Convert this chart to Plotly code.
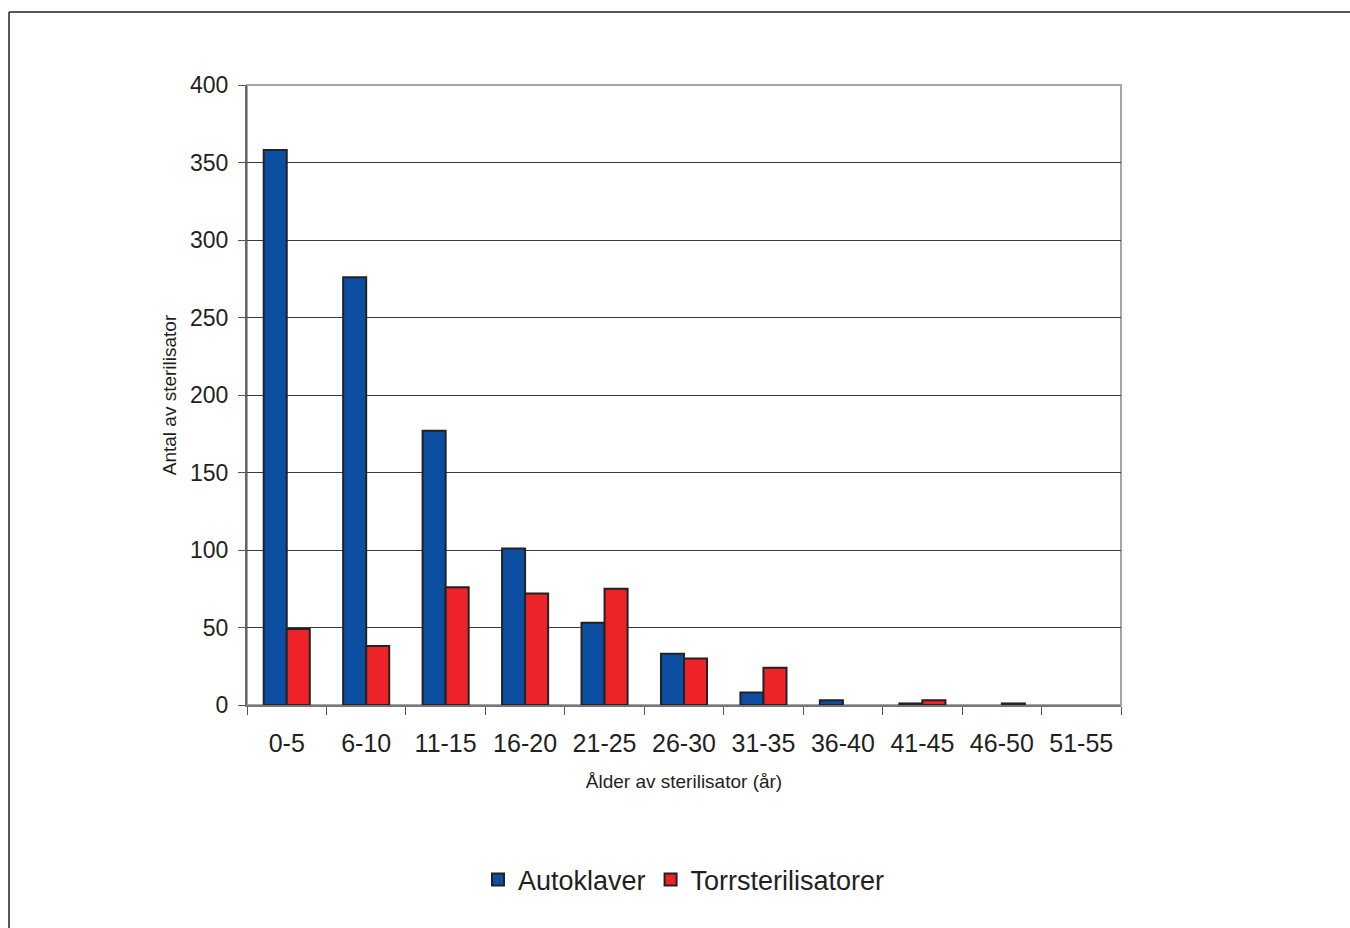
import plotly.graph_objects as go

# Age groups of sterilizers (years) and counts per type
age_groups = ["0-5", "6-10", "11-15", "16-20", "21-25", "26-30",
              "31-35", "36-40", "41-45", "46-50", "51-55"]
autoklaver = [358, 276, 177, 101, 53, 33, 8, 3, 1, 0, 0]
torrsterilisatorer = [49, 38, 76, 72, 75, 30, 24, 0, 3, 1, 0]

y_ticks = [0, 50, 100, 150, 200, 250, 300, 350, 400]

BLUE = "#0b4ea2"
RED = "#ee2229"
TEXT = "#231f20"
FONT = "Liberation Sans, Arial, sans-serif"


def no_zero(values):
    # empty groups get no bar at all (not even an outline)
    return [v if v else None for v in values]


fig = go.Figure()
fig.add_trace(go.Bar(
    name="Autoklaver", x=age_groups, y=no_zero(autoklaver),
    marker=dict(color=BLUE, line=dict(color="#222222", width=2)),
))
fig.add_trace(go.Bar(
    name="Torrsterilisatorer", x=age_groups, y=no_zero(torrsterilisatorer),
    marker=dict(color=RED, line=dict(color="#222222", width=2)),
))

# plot-area geometry in pixels (used for paper-coordinate conversions)
W, H = 1350, 928
L, R, T, B = 247, 1121, 85, 705
pw, ph = R - L, B - T


def px(x):
    return (x - L) / pw


def py(y):
    return (B - y) / ph


shapes = [
    # grey frame around the plotting area (top and right sides visible)
    dict(type="rect", xref="paper", yref="paper", x0=0, y0=0, x1=1, y1=1,
         line=dict(color="#a6a6a6", width=2), layer="below"),
    # outer border of the figure
    dict(type="line", xref="paper", yref="paper",
         x0=px(9), y0=py(12), x1=px(1352), y1=py(12),
         line=dict(color="#231f20", width=1.5)),
    dict(type="line", xref="paper", yref="paper",
         x0=px(9), y0=py(12), x1=px(9), y1=py(930),
         line=dict(color="#231f20", width=1.5)),
]

fig.update_layout(
    width=W, height=H,
    margin=dict(l=L, r=W - R, t=T, b=H - B),
    paper_bgcolor="white", plot_bgcolor="white",
    barmode="group", bargap=0.42, bargroupgap=0,
    font=dict(family=FONT, color=TEXT),
    shapes=shapes,
    showlegend=True,
    legend=dict(
        orientation="h", x=0.5, xanchor="center", y=py(880), yanchor="middle",
        font=dict(size=27, color=TEXT), itemwidth=30,
        traceorder="normal", bgcolor="rgba(0,0,0,0)",
    ),
    xaxis=dict(
        type="category", tickson="boundaries",
        ticks="outside", ticklen=8, tickcolor="#555555", tickwidth=1,
        showline=True, linecolor="#777777", linewidth=1.5,
        showgrid=False, zeroline=False, ticklabelstandoff=15,
        tickfont=dict(size=25, color=TEXT),
        title=dict(text="Ålder av sterilisator (år)",
                   font=dict(size=19, color=TEXT), standoff=19),
    ),
    yaxis=dict(
        range=[0, 400], tickvals=y_ticks,
        ticks="outside", ticklen=7, tickcolor="#555555", tickwidth=1,
        showline=True, linecolor="#666666", linewidth=2,
        showgrid=True, gridcolor="#3a3a3a", gridwidth=1,
        zeroline=False, ticklabelstandoff=5,
        tickfont=dict(size=23, color=TEXT),
        title=dict(text="Antal av sterilisator",
                   font=dict(size=19, color=TEXT), standoff=8),
    ),
)

fig.write_html("out.html")
